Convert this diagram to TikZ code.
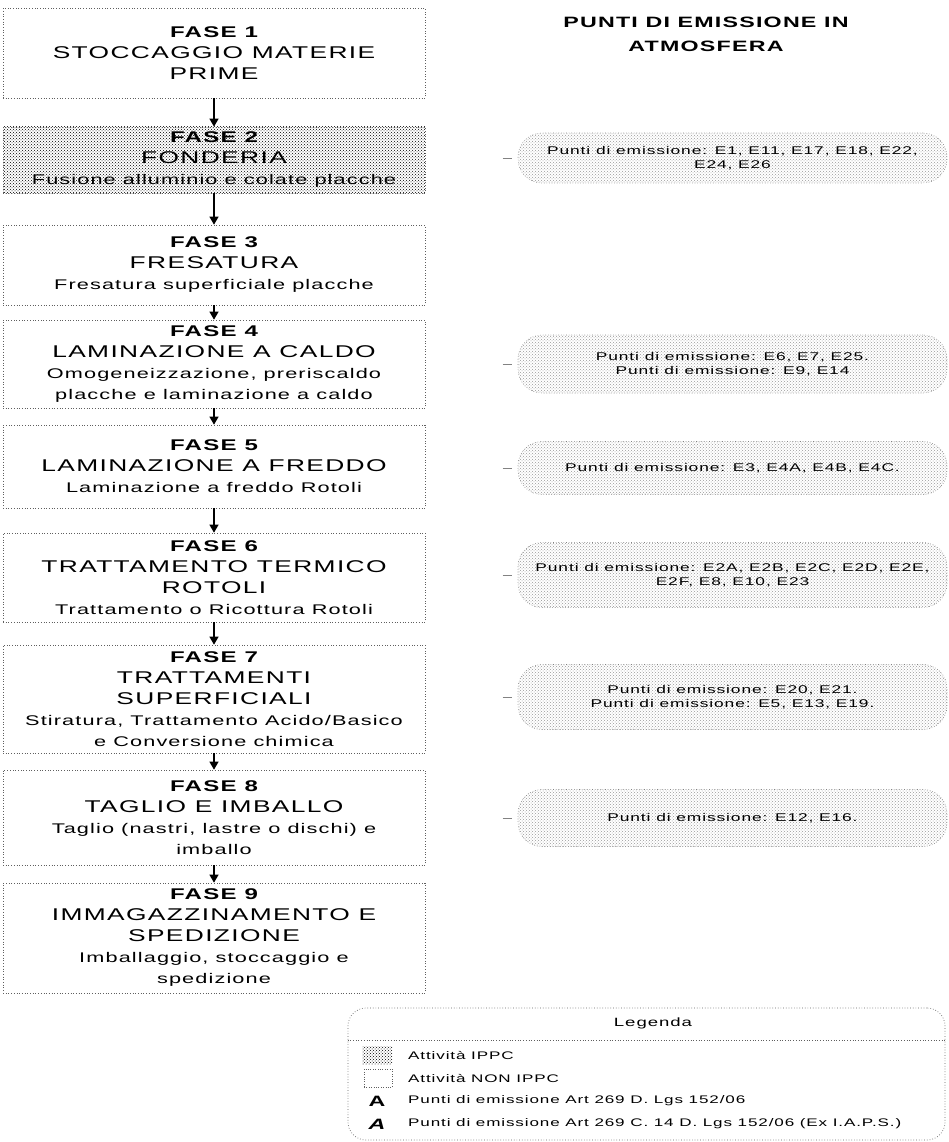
\documentclass[tikz,border=0pt]{standalone}
\usepackage{fontspec}
\setmainfont{Liberation Sans}[FakeStretch=1.55,LetterSpace=8]
\usetikzlibrary{patterns,arrows.meta,positioning}
\definecolor{bordogray}{RGB}{95,95,95}
\definecolor{puntigray}{RGB}{130,130,130}
\newcommand{\fasenum}[1]{{\fontsize{15.5}{21}\selectfont\bfseries FASE #1}}
\newcommand{\fasetit}[1]{{\fontsize{17}{21}\selectfont #1}}

\tikzset{
  fasebox/.style={draw=bordogray, dotted, line width=0.7pt, minimum width=422, inner sep=0pt,
                  align=center, font=\fontsize{14}{21}\selectfont},
  ippc/.style={pattern=crosshatch dots, pattern color=black},
  puntibox/.style={draw=puntigray, dotted, line width=0.6pt, rounded corners=24, minimum width=429,
                   inner sep=0pt, align=center, pattern=crosshatch dots, pattern color=black!40,
                   font=\fontsize{11.2}{14.5}\selectfont},
  flow/.style={-{Triangle[length=8pt,width=9pt]}, line width=1.3pt},
  tick/.style={puntigray, line width=0.6pt},
  legbox/.style={draw=bordogray, dotted, line width=0.7pt, rounded corners=18,
                 minimum width=597, minimum height=132, inner sep=0pt},
  legtext/.style={anchor=west, font=\fontsize{11}{13}\selectfont, inner sep=0pt}
}

\begin{document}
\begin{tikzpicture}[x=1pt,y=-1pt]
  \useasboundingbox (0,0) rectangle (949,1142);

  % Fasi di processo
  \node[fasebox, minimum height=90] (fase1) at (214,53)
    {\fasenum{1}\\\fasetit{STOCCAGGIO MATERIE}\\\fasetit{PRIME}};
  \node[fasebox, ippc, minimum height=66] (fase2) at (214,160)
    {\fasenum{2}\\\fasetit{FONDERIA}\\Fusione alluminio e colate placche};
  \node[fasebox, minimum height=80] (fase3) at (214,265)
    {\fasenum{3}\\\fasetit{FRESATURA}\\Fresatura superficiale placche};
  \node[fasebox, minimum height=88] (fase4) at (214,364)
    {\fasenum{4}\\\fasetit{LAMINAZIONE A CALDO}\\Omogeneizzazione, preriscaldo\\placche e laminazione a caldo};
  \node[fasebox, minimum height=83] (fase5) at (214,466.5)
    {\fasenum{5}\\\fasetit{LAMINAZIONE A FREDDO}\\Laminazione a freddo Rotoli};
  \node[fasebox, minimum height=89] (fase6) at (214,577.5)
    {\fasenum{6}\\\fasetit{TRATTAMENTO TERMICO}\\\fasetit{ROTOLI}\\Trattamento o Ricottura Rotoli};
  \node[fasebox, minimum height=108] (fase7) at (214,699)
    {\fasenum{7}\\\fasetit{TRATTAMENTI}\\\fasetit{SUPERFICIALI}\\Stiratura, Trattamento Acido/Basico\\e Conversione chimica};
  \node[fasebox, minimum height=95] (fase8) at (214,817.5)
    {\fasenum{8}\\\fasetit{TAGLIO E IMBALLO}\\Taglio (nastri, lastre o dischi) e\\imballo};
  \node[fasebox, minimum height=110] (fase9) at (214,938)
    {\fasenum{9}\\\fasetit{IMMAGAZZINAMENTO E}\\\fasetit{SPEDIZIONE}\\Imballaggio, stoccaggio e\\spedizione};

  \foreach \a/\b in {1/2,2/3,3/4,4/5,5/6,6/7,7/8,8/9}
    \draw[flow] (fase\a.south) -- (fase\b.north);

  % Punti di emissione
  \node[align=center, font=\fontsize{15}{24}\selectfont\bfseries] (titolo) at (706,34)
    {PUNTI DI EMISSIONE IN\\ATMOSFERA};

  \node[puntibox, minimum height=50] (punti2) at (732.5,158)
    {Punti di emissione: E1, E11, E17, E18, E22,\\E24, E26};
  \node[puntibox, minimum height=58] (punti4) at (732.5,364)
    {Punti di emissione: E6, E7, E25.\\Punti di emissione: E9, E14};
  \node[puntibox, minimum height=53] (punti5) at (732.5,468)
    {Punti di emissione: E3, E4A, E4B, E4C.};
  \node[puntibox, minimum height=65] (punti6) at (732.5,575)
    {Punti di emissione: E2A, E2B, E2C, E2D, E2E,\\E2F, E8, E10, E23};
  \node[puntibox, minimum height=65] (punti7) at (732.5,697)
    {Punti di emissione: E20, E21.\\Punti di emissione: E5, E13, E19.};
  \node[puntibox, minimum height=57] (punti8) at (732.5,818)
    {Punti di emissione: E12, E16.};

  \foreach \p in {2,4,5,6,7,8} {
    \coordinate (t\p) at ([xshift=-15]punti\p.west);
    \draw[tick] (t\p) -- ([xshift=-6]punti\p.west);
  }

  % Legenda
  \node[legbox] (legenda) at (646.5,1074) {};
  \node[font=\fontsize{12}{14}\selectfont] (legtit) at (653,1023) {Legenda};
  \coordinate (sepy) at (0,1040);
  \draw[bordogray, dotted, line width=0.7pt] (legenda.west |- sepy) -- (legenda.east |- sepy);

  \node[ippc, minimum width=30, minimum height=18, inner sep=0pt] (symippc) at (377,1055) {};
  \node[draw=bordogray, dotted, minimum width=28, minimum height=18, inner sep=0pt] (symnon) at (378,1078) {};
  \node[font=\fontsize{15}{15}\selectfont\bfseries] (syma) at (377,1101) {A};
  \node[font=\fontsize{15}{15}\selectfont\bfseries\itshape] (symb) at (377,1124) {A};

  \node[legtext] (leg1) at (408,1055) {Attività IPPC};
  \node[legtext] (leg2) at (408,1078) {Attività NON IPPC};
  \node[legtext] (leg3) at (408,1101) {Punti di emissione Art 269 D. Lgs 152/06};
  \node[legtext] (leg4) at (408,1124) {Punti di emissione Art 269 C. 14 D. Lgs 152/06 (Ex I.A.P.S.)};
\end{tikzpicture}
\end{document}
